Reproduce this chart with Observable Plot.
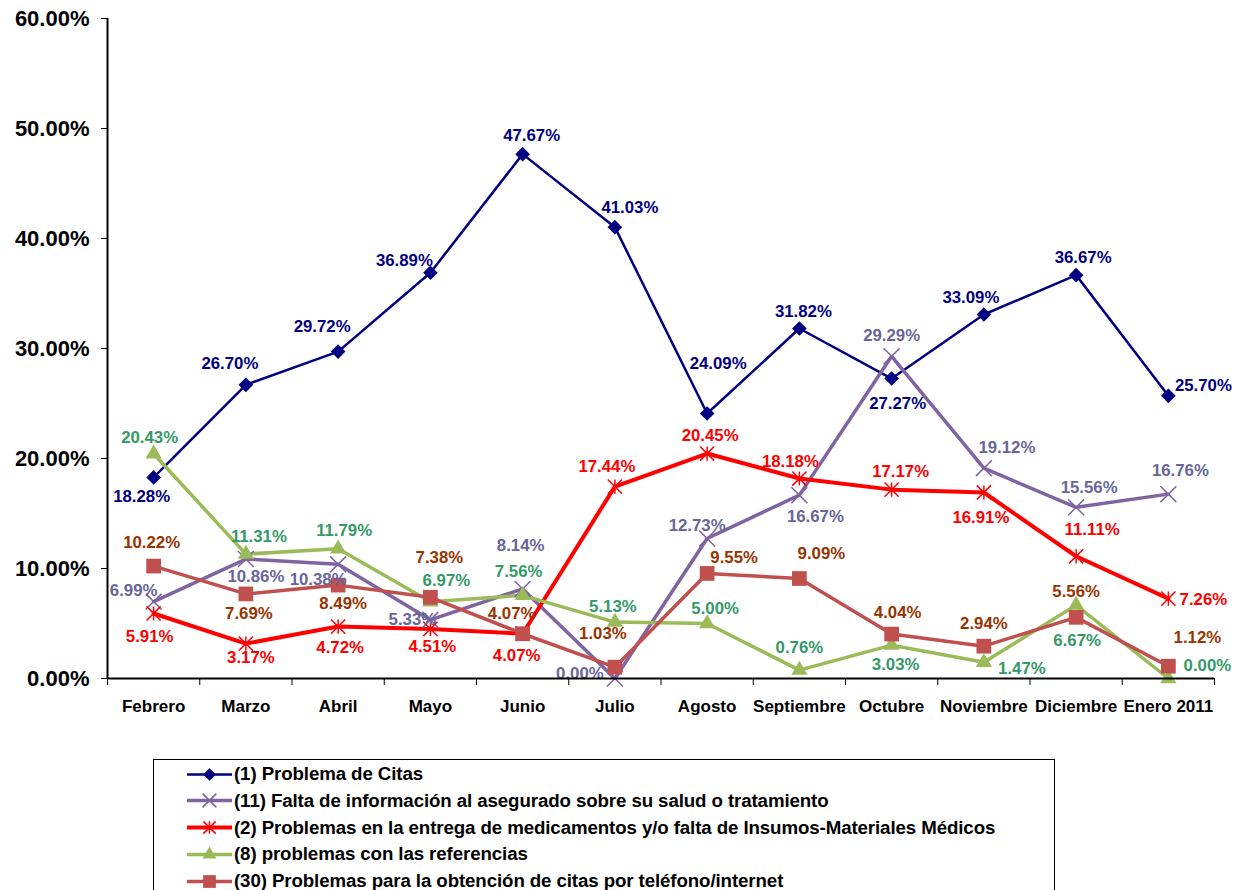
<!DOCTYPE html>
<html>
<head>
<meta charset="utf-8">
<script src="https://cdn.jsdelivr.net/npm/d3@7"></script>
<script src="https://cdn.jsdelivr.net/npm/@observablehq/plot@0.6"></script>
<style>
  html, body { margin: 0; padding: 0; background: #fff; }
  #wrap { position: relative; width: 1241px; height: 890px; overflow: hidden; background: #fff; }
  #legend { position: absolute; left: 153px; top: 759px; width: 902px; height: 140px; border: 1.5px solid #000; box-sizing: border-box; }
  .row { position: absolute; left: 0; height: 27px; display: flex; align-items: center; }
  .row svg { display: block; }
  .row span { font-family: "Liberation Sans", Arial, sans-serif; font-weight: bold; font-size: 18.7px; color: #000; margin-left: 1px; white-space: nowrap; letter-spacing: -0.1px; }
</style>
</head>
<body>
<div id="wrap"><div id="chart"></div><div id="legend"></div></div>
<script>
// ---------- data ----------
const months = ["Febrero","Marzo","Abril","Mayo","Junio","Julio","Agosto","Septiembre","Octubre","Noviembre","Diciembre","Enero 2011"];
const yTicks = [0, 0.1, 0.2, 0.3, 0.4, 0.5, 0.6];

const seriesNames = [
  "(1) Problema de Citas",
  "(11) Falta de información al asegurado sobre su salud o tratamiento",
  "(2) Problemas en la entrega de medicamentos y/o falta de Insumos-Materiales Médicos",
  "(8) problemas con las referencias",
  "(30) Problemas para la obtención de citas por teléfono/internet"
];
const citas      = [18.28, 26.70, 29.72, 36.89, 47.67, 41.03, 24.09, 31.82, 27.27, 33.09, 36.67, 25.70];
const falta      = [6.99, 10.86, 10.38, 5.33, 8.14, 0.00, 12.73, 16.67, 29.29, 19.12, 15.56, 16.76];
const medicinas  = [5.91, 3.17, 4.72, 4.51, 4.07, 17.44, 20.45, 18.18, 17.17, 16.91, 11.11, 7.26];
const referencias= [20.43, 11.31, 11.79, 6.97, 7.56, 5.13, 5.00, 0.76, 3.03, 1.47, 6.67, 0.00];
const telefono   = [10.22, 7.69, 8.49, 7.38, 4.07, 1.03, 9.55, 9.09, 4.04, 2.94, 5.56, 1.12];

// ---------- label placement (pixel offsets, layout only) ----------
const citasLabelOff = [[-12,19],[-16,-21],[-16,-25],[-26,-12],[9,-19],[15,-20],[11,-50],[4,-17],[6,25],[-13,-17],[7,-18],[35,-10]];
const faltaLabelOff = [[-20,-11],[10,18],[-20,15],[-18,0],[-2,-43],[-35,-5],[-10,-13],[16,21],[0,-21],[23,-21],[13,-20],[12,-24]];
const mediLabelOff  = [[-4,23],[5,14],[2,21],[2,18],[-6,22],[-8,-20],[3,-18],[-9,-17],[9,-18],[-3,25],[16,-27],[35,1]];
const refLabelOff   = [[-4,-16],[13,-17],[6,-18],[16,-21],[-4,-24],[-2,-15],[8,-15],[0,-23],[4,19],[38,6],[1,35],[39,-13]];
const telLabelOff   = [[-2,-23],[3,20],[5,18],[9,-40],[-11,-20],[-12,-34],[27,-16],[22,-25],[6,-21],[0,-23],[0,-26],[29,-29]];

// ---------- styles ----------
const starSymbol = {
  draw(ctx, size) {
    const r = Math.sqrt(size) * 0.5;
    ctx.moveTo(-r, -r); ctx.lineTo(r, r);
    ctx.moveTo(r, -r); ctx.lineTo(-r, r);
    ctx.moveTo(0, -r); ctx.lineTo(0, r);
  }
};
const styles = [
  {values: citas, off: citasLabelOff, line: "#000080", width: 2.5, label: "#000080", symbol: "diamond2", r: 6.6, filled: true},
  {values: falta, off: faltaLabelOff, line: "#8064A2", width: 3.5, label: "#666699", symbol: "times", r: 7.3, filled: false, sw: 1.5},
  {values: medicinas, off: mediLabelOff, line: "#FF0000", width: 4, label: "#FF0000", symbol: starSymbol, r: 8, filled: false, sw: 1.5},
  {values: referencias, off: refLabelOff, line: "#9BBB59", width: 3.5, label: "#339966", symbol: "triangle", r: 6, filled: true},
  {values: telefono, off: telLabelOff, line: "#C0504D", width: 3.5, label: "#993300", symbol: "square", r: 8.3, filled: true}
];

const FONT = "Liberation Sans, Arial, sans-serif";
const pct = v => v.toFixed(2) + "%";

const marks = [];
// axes
marks.push(Plot.axisY({ticks: yTicks, tickFormat: d => (d * 100).toFixed(2) + "%", tickSize: 6, tickPadding: 12, fontSize: 22, fontWeight: "bold", fill: "#000", label: null}));
marks.push(Plot.axisX({ticks: d3.range(-0.5, months.length, 1), tickSize: 7, tickFormat: () => "", label: null}));
marks.push(Plot.axisX({ticks: d3.range(months.length), tickSize: 0, tickPadding: 21, tickFormat: i => months[i], fontSize: 17, fontWeight: "bold", fill: "#000", label: null}));

styles.forEach((s) => {
  const rows = s.values.map((v, i) => ({i, value: v / 100}));
  marks.push(Plot.line(rows, {x: "i", y: "value", stroke: s.line, strokeWidth: s.width, strokeLinejoin: "miter"}));
});
styles.forEach((s) => {
  const rows = s.values.map((v, i) => ({i, value: v / 100}));
  if (s.filled) marks.push(Plot.dot(rows, {x: "i", y: "value", symbol: s.symbol, r: s.r, fill: s.line, stroke: "none"}));
  else marks.push(Plot.dot(rows, {x: "i", y: "value", symbol: s.symbol, r: s.r, fill: "none", stroke: s.line, strokeWidth: s.sw}));
});
styles.forEach((s) => {
  s.values.forEach((v, i) => {
    marks.push(Plot.text([{i, value: v / 100, text: pct(v)}], {
      x: "i", y: "value", text: "text", dx: s.off[i][0], dy: s.off[i][1],
      fill: s.label, fontSize: 16.8, fontWeight: "bold", textAnchor: "middle"
    }));
  });
});
marks.push(Plot.ruleY([0], {stroke: "#000", strokeWidth: 2}));
marks.push(Plot.ruleX([-0.5], {y1: 0, y2: 0.6, stroke: "#000", strokeWidth: 2}));

const chart = Plot.plot({
  width: 1241,
  height: 745,
  marginLeft: 107,
  marginRight: 27,
  marginTop: 18,
  marginBottom: 67,
  style: {fontFamily: FONT, background: "#fff", overflow: "visible"},
  x: {type: "linear", domain: [-0.5, months.length - 0.5]},
  y: {domain: [0, 0.6]},
  marks
});
document.getElementById("chart").appendChild(chart);

// ---------- legend ----------
const legend = document.getElementById("legend");
styles.forEach((s, k) => {
  const row = document.createElement("div");
  row.className = "row";
  row.style.top = (0.5 + k * 26.8) + "px";
  row.style.left = "31px";
  const ns = "http://www.w3.org/2000/svg";
  const svg = document.createElementNS(ns, "svg");
  svg.setAttribute("width", 48); svg.setAttribute("height", 27);
  const ln = document.createElementNS(ns, "line");
  ln.setAttribute("x1", 2); ln.setAttribute("x2", 47); ln.setAttribute("y1", 13.5); ln.setAttribute("y2", 13.5);
  ln.setAttribute("stroke", s.line); ln.setAttribute("stroke-width", s.width);
  svg.appendChild(ln);
  const symMap = {diamond2: d3.symbolDiamond2, times: d3.symbolTimes, triangle: d3.symbolTriangle, square: d3.symbolSquare};
  const sym = typeof s.symbol === "string" ? symMap[s.symbol] : s.symbol;
  const p = document.createElementNS(ns, "path");
  p.setAttribute("d", d3.symbol(sym, Math.PI * s.r * s.r * 0.75)());
  p.setAttribute("transform", "translate(24.5,13.5)");
  if (s.filled) { p.setAttribute("fill", s.line); }
  else { p.setAttribute("fill", "none"); p.setAttribute("stroke", s.line); p.setAttribute("stroke-width", s.sw); }
  svg.appendChild(p);
  row.appendChild(svg);
  const t = document.createElement("span");
  t.textContent = seriesNames[k];
  row.appendChild(t);
  legend.appendChild(row);
});
</script>
</body>
</html>
